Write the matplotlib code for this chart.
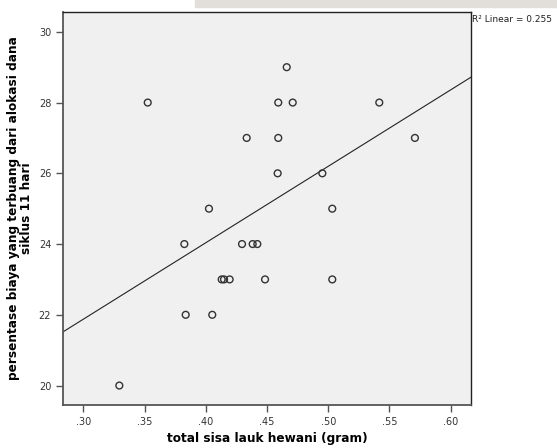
import numpy as np
import matplotlib
matplotlib.use("Agg")
from matplotlib import pyplot as plt
from matplotlib.patches import Rectangle

# total sisa lauk hewani (gram)
sisa_lauk = [0.3526, 0.4592, 0.4710, 0.5417,
             0.4661,
             0.4334, 0.4592, 0.5708,
             0.4587, 0.4952,
             0.4026, 0.5033,
             0.3825, 0.4296, 0.4383, 0.4421,
             0.4130, 0.4149, 0.4195, 0.4484, 0.5033,
             0.3836, 0.4053,
             0.3294]
# persentase biaya yang terbuang
persen_biaya = [28, 28, 28, 28,
                29,
                27, 27, 27,
                26, 26,
                25, 25,
                24, 24, 24, 24,
                23, 23, 23, 23, 23,
                22, 22,
                20]

x_ticks = [0.30, 0.35, 0.40, 0.45, 0.50, 0.55, 0.60]
x_tick_labels = [".30", ".35", ".40", ".45", ".50", ".55", ".60"]
y_ticks = [20, 22, 24, 26, 28, 30]

X_LIM = (0.2834, 0.6166)
Y_LIM = (19.45, 30.56)


def main():
    x = np.array(sisa_lauk)
    y = np.array(persen_biaya)

    fig = plt.figure(figsize=(5.57, 4.48), dpi=100)
    # faint banner strip left over at the top of the screenshot
    fig.patches.append(Rectangle((195 / 557, 1 - 7 / 448), 362 / 557, 7 / 448,
                                 transform=fig.transFigure, color="#e2dfdb",
                                 zorder=0))

    ax = fig.add_axes([63 / 557, 1 - 405 / 448, 408 / 557, 393 / 448])
    ax.set_facecolor("#f0f0f0")

    # fit line
    slope, intercept = np.polyfit(x, y, 1)
    line_x = np.array(X_LIM)
    ax.plot(line_x, slope * line_x + intercept, color="#222222", linewidth=0.8)

    ax.scatter(x, y, s=24, facecolors="none", edgecolors="#333333",
               linewidths=1.0, zorder=3)

    ax.set_xlim(*X_LIM)
    ax.set_ylim(*Y_LIM)
    ax.set_xticks(x_ticks)
    ax.set_xticklabels(x_tick_labels)
    ax.set_yticks(y_ticks)
    ax.tick_params(direction="out", length=5, width=1, colors="#555555",
                   labelsize=7, labelcolor="#333333")

    for name in ["left", "bottom"]:
        ax.spines[name].set_color("#555555")
        ax.spines[name].set_linewidth(1.3)
    for name in ["top", "right"]:
        ax.spines[name].set_color("#222222")
        ax.spines[name].set_linewidth(1.0)

    ax.set_xlabel("total sisa lauk hewani (gram)", fontsize=8.7,
                  fontweight="bold", labelpad=4)
    ax.set_ylabel("persentase biaya yang terbuang dari alokasi dana\nsiklus 11 hari",
                  fontsize=8.7, fontweight="bold", labelpad=4,
                  linespacing=1.0)

    fig.text(472 / 557, 1 - 20 / 448, "R² Linear = 0.255", fontsize=6.5,
             color="#222222", va="center", ha="left")

    fig.savefig("out.png", dpi=100)


if __name__ == "__main__":
    main()
